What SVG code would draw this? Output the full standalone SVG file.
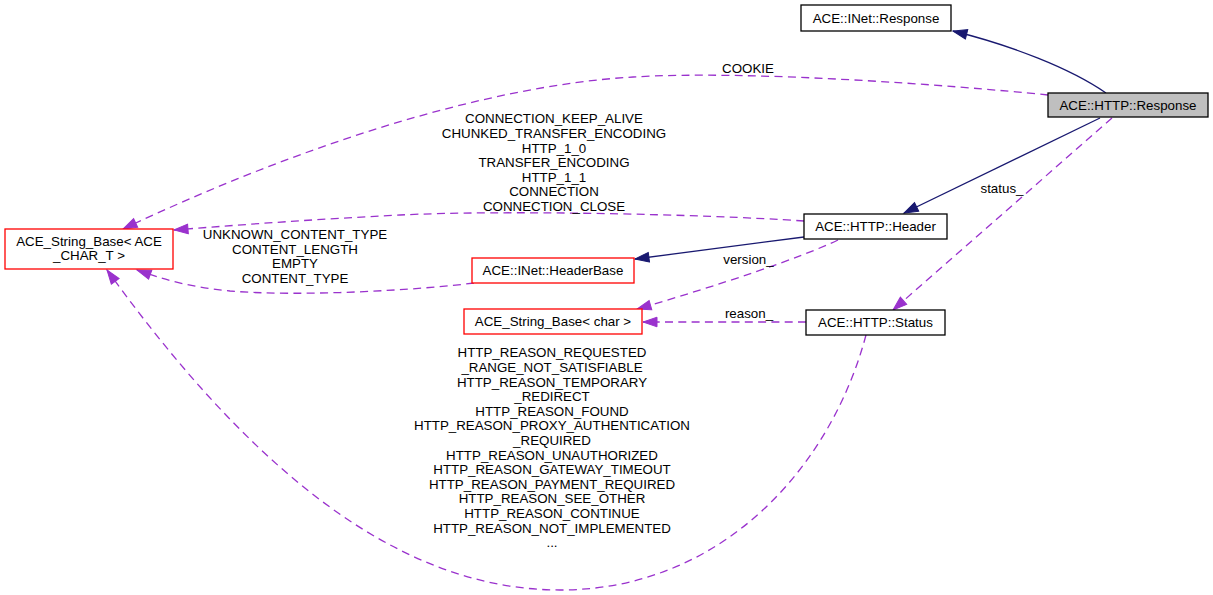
<svg xmlns="http://www.w3.org/2000/svg" width="1213" height="595" viewBox="0 0 1213 595">
<style>
text{font-family:"Liberation Sans",Arial,Helvetica,sans-serif;font-size:13.33px;fill:#000;text-anchor:middle}
.box{fill:#fff;stroke:#000;stroke-width:1.3}
.red{fill:#fff;stroke:#ff0000;stroke-width:1.3}
.cur{fill:#bfbfbf;stroke:#000;stroke-width:1.3}
.inh{fill:none;stroke:#191970;stroke-width:1.3;marker-end:url(#arrN)}
.use{fill:none;stroke:#9a32cd;stroke-width:1.3;stroke-dasharray:8,5.3;marker-end:url(#arrP)}
</style>
<defs>
<marker id="arrN" markerWidth="18" markerHeight="14" viewBox="-16 -7 18 14" refX="0" refY="0" orient="auto" markerUnits="userSpaceOnUse"><path d="M-14,-4.8 L0,0 L-14,4.8 z" fill="#191970" stroke="#191970" stroke-width="1"/></marker>
<marker id="arrP" markerWidth="18" markerHeight="14" viewBox="-16 -7 18 14" refX="0" refY="0" orient="auto" markerUnits="userSpaceOnUse"><path d="M-14,-4.8 L0,0 L-14,4.8 z" fill="#9a32cd" stroke="#9a32cd" stroke-width="1"/></marker>
</defs>
<rect width="1213" height="595" fill="#fff"/>
<g id="connectors">
<path class="inh" d="M1106,93 C1070,68 1010,45 953,31"/>
<path class="inh" d="M1100,118 L904,213"/>
<path class="use" d="M1112,118 L893,310"/>
<path class="use" d="M1048,95 C950,85 750,70 633,77 C480,86 290,150 123,229"/>
<path class="use" d="M804,221 C700,214 500,210 400,215 C320,219 250,224 174,230"/>
<path class="inh" d="M804,237 L635,259"/>
<path class="use" d="M474,283 C420,290 300,297 230,291 C190,287 165,280 137,270"/>
<path class="use" d="M838,240 C800,258 720,285 637,309"/>
<path class="use" d="M806,322 L643,322"/>
<path class="use" d="M866,335 C830,470 720,590 560,590 C380,590 230,440 107,270"/>
<g id="edge-labels">
<text x="748" y="73.3">COOKIE</text>
<text x="554" y="123.3">CONNECTION_KEEP_ALIVE</text>
<text x="554" y="137.9">CHUNKED_TRANSFER_ENCODING</text>
<text x="554" y="152.5">HTTP_1_0</text>
<text x="554" y="167.1">TRANSFER_ENCODING</text>
<text x="554" y="181.7">HTTP_1_1</text>
<text x="554" y="196.3">CONNECTION</text>
<text x="554" y="210.9">CONNECTION_CLOSE</text>
<text x="295" y="239">UNKNOWN_CONTENT_TYPE</text>
<text x="295" y="253.6">CONTENT_LENGTH</text>
<text x="295" y="268.2">EMPTY</text>
<text x="295" y="282.8">CONTENT_TYPE</text>
<text x="1002" y="192.5">status_</text>
<text x="748.5" y="263.5">version_</text>
<text x="749" y="318.3">reason_</text>
<text x="552" y="357.3">HTTP_REASON_REQUESTED</text>
<text x="552" y="371.9">_RANGE_NOT_SATISFIABLE</text>
<text x="552" y="386.5">HTTP_REASON_TEMPORARY</text>
<text x="552" y="401.1">_REDIRECT</text>
<text x="552" y="415.7">HTTP_REASON_FOUND</text>
<text x="552" y="430.3">HTTP_REASON_PROXY_AUTHENTICATION</text>
<text x="552" y="444.9">_REQUIRED</text>
<text x="552" y="459.5">HTTP_REASON_UNAUTHORIZED</text>
<text x="552" y="474.1">HTTP_REASON_GATEWAY_TIMEOUT</text>
<text x="552" y="488.7">HTTP_REASON_PAYMENT_REQUIRED</text>
<text x="552" y="503.3">HTTP_REASON_SEE_OTHER</text>
<text x="552" y="517.9">HTTP_REASON_CONTINUE</text>
<text x="552" y="532.5">HTTP_REASON_NOT_IMPLEMENTED</text>
<text x="552" y="547.1">...</text>
</g>
</g>
<g id="node-inet-response">
<rect class="box" x="801" y="5" width="150" height="26"/>
<text x="876" y="22.7">ACE::INet::Response</text>
</g>
<g id="node-http-response">
<rect class="cur" x="1048" y="93" width="160" height="24"/>
<text x="1128" y="109.7">ACE::HTTP::Response</text>
</g>
<g id="node-http-header">
<rect class="box" x="804" y="214" width="143" height="25"/>
<text x="875.5" y="231">ACE::HTTP::Header</text>
</g>
<g id="node-inet-headerbase">
<rect class="red" x="472" y="258" width="162" height="25"/>
<text x="553" y="275">ACE::INet::HeaderBase</text>
</g>
<g id="node-string-base-char">
<rect class="red" x="464" y="309" width="178" height="25"/>
<text x="553" y="326">ACE_String_Base&lt; char &gt;</text>
</g>
<g id="node-http-status">
<rect class="box" x="806" y="310" width="139" height="25"/>
<text x="875.5" y="327">ACE::HTTP::Status</text>
</g>
<g id="node-string-base-ace-char">
<rect class="red" x="5" y="229" width="168" height="40"/>
<text x="89" y="245.5">ACE_String_Base&lt; ACE</text>
<text x="89" y="260">_CHAR_T &gt;</text>
</g>
</svg>
